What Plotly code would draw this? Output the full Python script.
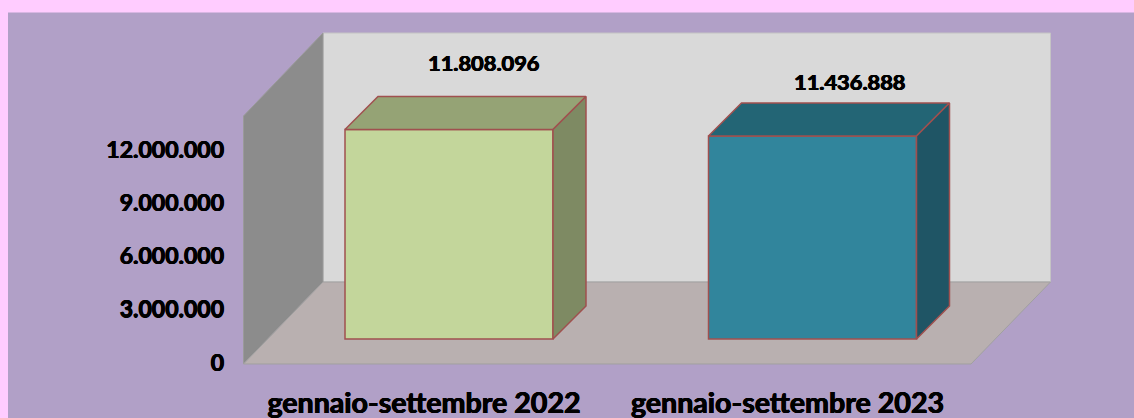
import plotly.graph_objects as go

# ---- data ----
categories = ["gennaio-settembre 2022", "gennaio-settembre 2023"]
values = [11808096, 11436888]
tick_values = [0, 3000000, 6000000, 9000000, 12000000]
tick_labels = ["0", "3.000.000", "6.000.000", "9.000.000", "12.000.000"]

# ---- layout constants (pixels on the 1134x418 canvas) ----
W, H = 1134, 418
PX_PER_UNIT = 213 / 12000000      # vertical scale
BAR_ZERO_PY = 339                 # bars stand on this pixel row
TICK_ZERO_PY = 362.5              # row of the "0" tick label
SLOT_PX = 363.5                   # distance between bar centres
BAR0_PX = 449                     # first bar centre
LABEL0_PX = 424                   # first category label centre
BAR_W_PX = 208
DEPTH_PX = 33

FACE = ["#C3D69B", "#31859C"]
TOP = ["#95A375", "#236575"]
SIDE = ["#7E8A63", "#1F5565"]
EDGE = "#A0504F"
FONT = "Lato"
HEAVY = "0.5px 0 0 #000, -0.5px 0 0 #000, 0 0.4px 0 #000"


def px(x):
    return x / W


def py(y):
    return 1 - y / H


def poly(points):
    return "M " + " L ".join(f"{px(x):.5f},{py(y):.5f}" for x, y in points) + " Z"


dx = DEPTH_PX / SLOT_PX
dy = DEPTH_PX / PX_PER_UNIT
half = BAR_W_PX / SLOT_PX / 2

fig = go.Figure()

# front faces
fig.add_trace(go.Bar(
    x=[0, 1], y=values, width=BAR_W_PX / SLOT_PX,
    marker=dict(color=FACE, line=dict(color=EDGE, width=1.5)),
    hoverinfo="skip", showlegend=False,
))

# top and side faces, derived from the values
for i, v in enumerate(values):
    fig.add_trace(go.Scatter(
        x=[i - half, i - half + dx, i + half + dx, i + half, i - half],
        y=[v, v + dy, v + dy, v, v],
        mode="lines", fill="toself", fillcolor=TOP[i],
        line=dict(color=EDGE, width=1.5), hoverinfo="skip", showlegend=False,
    ))
    fig.add_trace(go.Scatter(
        x=[i + half, i + half + dx, i + half + dx, i + half, i + half],
        y=[v, v + dy, dy, 0, v],
        mode="lines", fill="toself", fillcolor=SIDE[i],
        line=dict(color=EDGE, width=1.5), hoverinfo="skip", showlegend=False,
    ))

# invisible trace that keeps the shifted label axes alive
fig.add_trace(go.Scatter(
    x=[0, 1], y=[0, 0], xaxis="x2", yaxis="y2", mode="markers",
    marker=dict(opacity=0, size=1), hoverinfo="skip", showlegend=False,
))

shapes = [
    dict(type="rect", xref="paper", yref="paper", x0=px(8), x1=1, y0=0, y1=py(12.5),
         fillcolor="#B1A0C7", line=dict(width=0), layer="below"),
    dict(type="path", xref="paper", yref="paper",
         path=poly([(323, 33), (1050.5, 33), (1050.5, 282), (323, 282)]),
         fillcolor="#D9D9D9", line=dict(color="#C4C4C4", width=1), layer="below"),
    dict(type="path", xref="paper", yref="paper",
         path=poly([(243.5, 116), (323, 33), (323, 282), (243.5, 364)]),
         fillcolor="#8C8C8C", line=dict(color="#9A9A9A", width=1), layer="below"),
    dict(type="path", xref="paper", yref="paper",
         path=poly([(243.5, 364), (323, 282), (1050.5, 282), (971, 364)]),
         fillcolor="#B9B0B0", line=dict(color="#A0A0A0", width=1), layer="below"),
]

label_shift = [(35, 67), (37.5, 55)]
annotations = [
    dict(x=i, y=v, xref="x", yref="y", xshift=s[0], yshift=s[1], showarrow=False,
         text=f"{v:,}".replace(",", "."),
         font=dict(family=FONT, size=21.8, color="black", weight=700, shadow=HEAVY))
    for i, (v, s) in enumerate(zip(values, label_shift))
]

axis_font = dict(family=FONT, size=23, color="black", weight=700, shadow=HEAVY)

fig.update_layout(
    width=W, height=H,
    margin=dict(l=0, r=0, t=0, b=0),
    paper_bgcolor="#FFCCFF", plot_bgcolor="rgba(0,0,0,0)",
    showlegend=False, shapes=shapes, annotations=annotations,
    xaxis=dict(range=[-BAR0_PX / SLOT_PX, (W - BAR0_PX) / SLOT_PX], visible=False, automargin=False),
    yaxis=dict(range=[-(H - BAR_ZERO_PY) / PX_PER_UNIT, BAR_ZERO_PY / PX_PER_UNIT], visible=False, automargin=False),
    xaxis2=dict(
        overlaying="x", anchor="free", position=py(383), side="bottom", automargin=False,
        range=[-LABEL0_PX / SLOT_PX, (W - LABEL0_PX) / SLOT_PX],
        tickmode="array", tickvals=[0, 1], ticktext=categories,
        showgrid=False, zeroline=False, showline=False, ticks="",
        tickfont=dict(family=FONT, size=28.6, color="black", weight=700, shadow=HEAVY),
    ),
    yaxis2=dict(
        overlaying="y", anchor="free", position=px(224), side="left", automargin=False,
        range=[-(H - TICK_ZERO_PY) / PX_PER_UNIT, TICK_ZERO_PY / PX_PER_UNIT],
        tickmode="array", tickvals=tick_values, ticktext=tick_labels,
        showgrid=False, zeroline=False, showline=False, ticks="",
        tickfont=axis_font,
    ),
)

fig.write_html(
    "out.html",
    config=dict(displayModeBar=False),
    post_script="document.body.style.margin='0';document.documentElement.style.overflow='hidden';",
)
